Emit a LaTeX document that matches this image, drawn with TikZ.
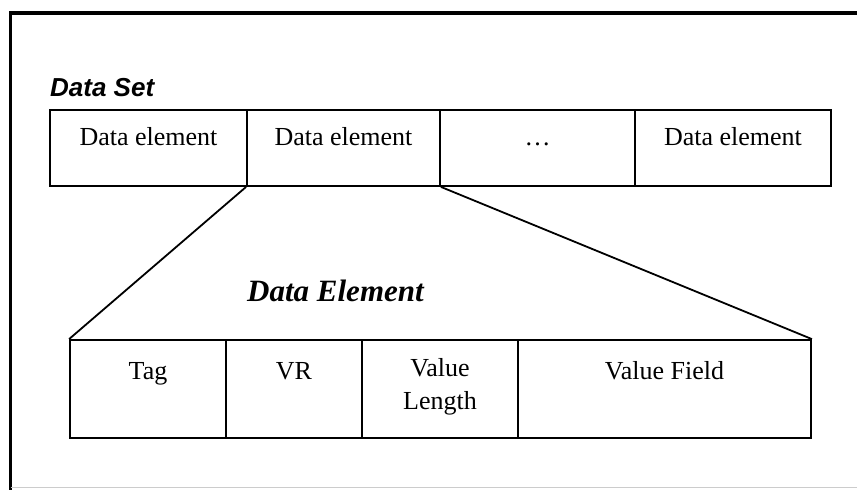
\documentclass[tikz,border=0pt]{standalone}
\usepackage{fontspec}
\setmainfont{Liberation Serif}
\setsansfont{Liberation Sans}
\begin{document}
\begin{tikzpicture}[x=1pt,y=1pt]
            \tikzset{cell/.style={draw,line width=1.8pt,rectangle,inner sep=0pt},
                     celltext/.style={font=\fontsize{26}{33}\selectfont,inner sep=0pt,text height=18pt,text depth=6pt}}
            \useasboundingbox (0,0) rectangle (857,490);

            % outer frame
            \draw[line width=3.2pt] (10.5,0) -- (10.5,477) -- (857,477);
            \draw[black!20,line width=1pt] (10.5,2) -- (857,2);

            % data set row
            \node[font=\sffamily\bfseries\itshape\fontsize{26}{30}\selectfont,anchor=base west,inner sep=0pt] (dslabel) at (50,393) {Data Set};
            \node[cell,minimum width=197pt,minimum height=76pt] (D1) at (148.5,342) {};
            \node[cell,minimum width=193pt,minimum height=76pt] (D2) at (343.5,342) {};
            \node[cell,minimum width=195pt,minimum height=76pt] (D3) at (537.5,342) {};
            \node[cell,minimum width=196pt,minimum height=76pt] (D4) at (733,342) {};

            \node[celltext] (t1) at (148.5,350) {Data element};
            \node[celltext] (t2) at (343.5,350) {Data element};
            \node[celltext] (t3) at (537.5,350) {\dots};
            \node[celltext] (t4) at (733,350) {Data element};

            % data element row
            \node[font=\bfseries\itshape\fontsize{31}{36}\selectfont,anchor=base west,inner sep=0pt] (delabel) at (247,188) {Data Element};
            \node[cell,minimum width=156pt,minimum height=98pt] (F1) at (148,101) {};
            \node[cell,minimum width=136pt,minimum height=98pt] (F2) at (294,101) {};
            \node[cell,minimum width=156pt,minimum height=98pt] (F3) at (440,101) {};
            \node[cell,minimum width=293pt,minimum height=98pt] (F4) at (664.5,101) {};

            \node[celltext] (s1) at (148,116) {Tag};
            \node[celltext] (s2) at (294,116) {VR};
            \node[font=\fontsize{26}{33}\selectfont,align=center,inner sep=0pt] (s3) at (440,103) {Value\\Length};
            \node[celltext] (s4) at (664.5,116) {Value Field};

            \draw[line width=1.8pt] (D2.south west) -- (F1.north west);
            \draw[line width=1.8pt] (D2.south east) -- (F4.north east);

        \end{tikzpicture}
\end{document}
